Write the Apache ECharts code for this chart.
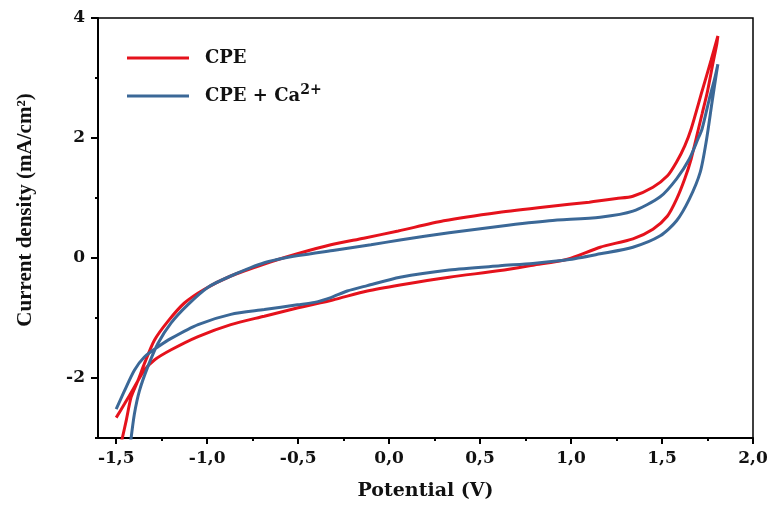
<!DOCTYPE html>
<html>
<head>
<meta charset="utf-8">
<script src="https://cdn.jsdelivr.net/npm/echarts@6/dist/echarts.min.js"></script>
<style>
  html, body { margin: 0; padding: 0; background: #fff; }
  #maingraph { width: 772px; height: 506px; }
</style>
</head>
<body>
<div id="maingraph"></div>
<script>
// DADOS (potencial V, densidade de corrente mA/cm2)
var cpeForward = [
    [-1.47, -3.05], [-1.445, -2.71], [-1.418, -2.32], [-1.38, -2.04], [-1.345, -1.76],
    [-1.29, -1.37], [-1.217, -1.06], [-1.125, -0.75], [-1.015, -0.52], [-0.87, -0.30],
    [-0.686, -0.10], [-0.504, 0.07], [-0.32, 0.22], [-0.14, 0.33], [0.05, 0.45],
    [0.3, 0.62], [0.6, 0.76], [0.88, 0.86], [1.1, 0.93], [1.25, 0.99], [1.34, 1.03],
    [1.45, 1.18], [1.53, 1.37], [1.58, 1.60], [1.625, 1.87], [1.66, 2.15], [1.72, 2.78],
    [1.77, 3.30], [1.807, 3.70]
];
var cpeReverse = [
    [1.80, 3.55], [1.78, 3.25], [1.75, 2.78], [1.72, 2.40], [1.70, 2.15], [1.66, 1.65],
    [1.625, 1.32], [1.58, 0.98], [1.53, 0.70], [1.45, 0.48], [1.34, 0.32], [1.16, 0.18],
    [0.98, -0.02], [0.79, -0.12], [0.61, -0.21], [0.33, -0.32], [0.06, -0.45],
    [-0.12, -0.55], [-0.31, -0.70], [-0.5, -0.83], [-0.686, -0.97], [-0.87, -1.11],
    [-1.05, -1.31], [-1.198, -1.53], [-1.29, -1.70], [-1.345, -1.87], [-1.40, -2.15],
    [-1.454, -2.43], [-1.5, -2.66]
];
var caForward = [
    [-1.42, -3.05], [-1.40, -2.6], [-1.372, -2.21], [-1.326, -1.81], [-1.27, -1.42],
    [-1.198, -1.08], [-1.107, -0.78], [-0.997, -0.49], [-0.87, -0.30], [-0.686, -0.08],
    [-0.5, 0.04], [-0.3, 0.13], [-0.1, 0.22], [0.06, 0.30], [0.33, 0.42], [0.61, 0.53],
    [0.88, 0.62], [1.16, 0.68], [1.34, 0.78], [1.49, 1.02], [1.58, 1.32], [1.65, 1.65],
    [1.697, 1.98], [1.72, 2.15], [1.76, 2.65], [1.79, 3.0], [1.807, 3.23]
];
var caReverse = [
    [1.80, 3.10], [1.775, 2.60], [1.745, 1.98], [1.71, 1.43], [1.65, 0.98], [1.58, 0.62],
    [1.49, 0.37], [1.34, 0.18], [1.16, 0.07], [0.98, -0.03], [0.79, -0.09], [0.61, -0.13],
    [0.33, -0.2], [0.06, -0.32], [-0.12, -0.46], [-0.23, -0.55], [-0.32, -0.66],
    [-0.41, -0.74], [-0.504, -0.78], [-0.686, -0.86], [-0.87, -0.94], [-1.05, -1.11],
    [-1.198, -1.34], [-1.27, -1.48], [-1.345, -1.65], [-1.40, -1.87], [-1.454, -2.21],
    [-1.5, -2.52]
];

// TICKS
var xMajor = [-1.5, -1.0, -0.5, 0.0, 0.5, 1.0, 1.5, 2.0];
var xMinor = [-1.25, -0.75, -0.25, 0.25, 0.75, 1.25, 1.75];
var yMajor = [-2, 0, 2, 4];
var yMinor = [-3, -1, 1, 3];

var serifFont = 'DejaVu Serif';
var titleFont = 'Liberation Serif';

// INIT GRAFICO
var myChart = echarts.init(document.getElementById('maingraph'));

var minorX = {
    type: 'value', min: -1.6, max: 2.0, position: 'bottom',
    axisLine: {show: false, onZero: false}, axisLabel: {show: false}, splitLine: {show: false},
    axisTick: {show: true, customValues: xMinor, length: 3, lineStyle: {color: '#000', width: 2}}
};
var minorY = {
    type: 'value', min: -3, max: 4, position: 'left',
    axisLine: {show: false, onZero: false}, axisLabel: {show: false}, splitLine: {show: false},
    axisTick: {show: true, customValues: yMinor, length: 3, lineStyle: {color: '#000', width: 2}}
};

var option = {
    animation: false,
    grid: {
        left: 98, right: 19, top: 18, bottom: 67,
        show: true, borderColor: '#000', borderWidth: 1.5, backgroundColor: 'transparent'
    },
    legend: {
        orient: 'vertical',
        left: 122, top: 44,
        itemWidth: 62, itemHeight: 3, itemGap: 16,
        icon: 'rect',
        data: ['CPE', 'CPE + Ca'],
        textStyle: {
            fontFamily: serifFont, fontWeight: 'bold', fontSize: 18, color: '#111',
            padding: [0, 0, 0, 11],
            rich: {
                b: {fontFamily: serifFont, fontWeight: 'bold', fontSize: 18, color: '#111'},
                sup: {fontFamily: serifFont, fontWeight: 'bold', fontSize: 14, color: '#111', padding: [0, 0, 12, 0]}
            }
        },
        formatter: function (name) {
            if (name === 'CPE + Ca') return '{b|CPE + Ca}{sup|2+}';
            return '{b|' + name + '}';
        }
    },
    xAxis: [{
        type: 'value', min: -1.6, max: 2.0,
        name: 'Potential (V)', nameLocation: 'middle', nameGap: 44,
        nameTextStyle: {fontFamily: serifFont, fontWeight: 'bold', fontSize: 19, color: '#111'},
        axisLine: {show: true, onZero: false, lineStyle: {color: '#000', width: 2}},
        axisTick: {show: true, customValues: xMajor, length: 6, lineStyle: {color: '#000', width: 2}},
        axisLabel: {
            customValues: xMajor, margin: 12,
            fontFamily: serifFont, fontWeight: 'bold', fontSize: 17, color: '#111',
            formatter: function (v) { return v.toFixed(1).replace('.', ','); }
        },
        splitLine: {show: false}
    }, minorX],
    yAxis: [{
        type: 'value', min: -3, max: 4,
        name: 'Current density (mA/cm²)', nameLocation: 'middle', nameGap: 62,
        nameTextStyle: {fontFamily: titleFont, fontWeight: 'bold', fontSize: 21, color: '#111', padding: [0, 0, 0, 36]},
        axisLine: {show: true, onZero: false, lineStyle: {color: '#000', width: 2}},
        axisTick: {show: true, customValues: yMajor, length: 7, lineStyle: {color: '#000', width: 2}},
        axisLabel: {
            customValues: yMajor, margin: 13,
            fontFamily: serifFont, fontWeight: 'bold', fontSize: 17, color: '#111'
        },
        splitLine: {show: false}
    }, minorY],
    series: [{
        name: 'CPE', type: 'line', xAxisIndex: 0, yAxisIndex: 0,
        data: cpeForward.concat(cpeReverse),
        showSymbol: false, symbol: 'none', smooth: 0.25, clip: true,
        lineStyle: {color: '#e5121c', width: 3},
        itemStyle: {color: '#e5121c'}
    }, {
        name: 'CPE + Ca', type: 'line', xAxisIndex: 0, yAxisIndex: 0,
        data: caForward.concat(caReverse),
        showSymbol: false, symbol: 'none', smooth: 0.25, clip: true,
        lineStyle: {color: '#3b6897', width: 3},
        itemStyle: {color: '#3b6897'}
    }]
};
myChart.setOption(option);
</script>
</body>
</html>
